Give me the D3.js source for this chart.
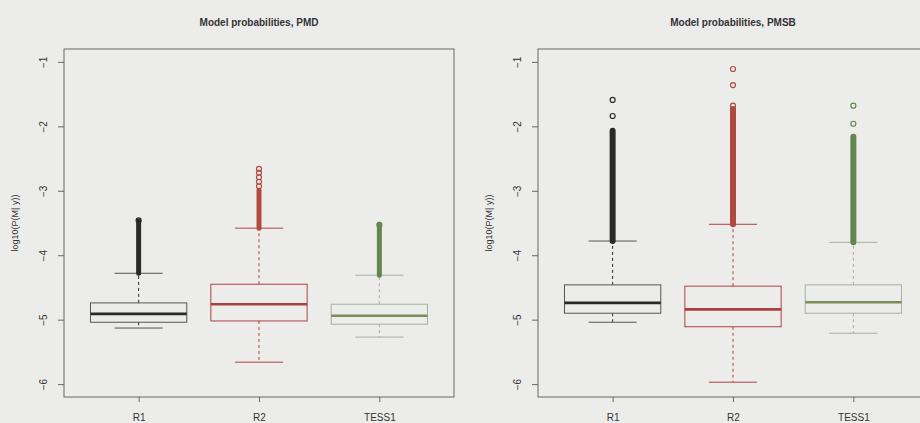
<!DOCTYPE html>
<html>
<head>
<meta charset="utf-8">
<script src="https://cdn.jsdelivr.net/npm/d3@7"></script>
<style>
  body { margin: 0; background: #ececea; }
  svg { display: block; font-family: "Liberation Sans", Arial, sans-serif; }
</style>
</head>
<body>
<div id="chart"></div>
<script>
// categories and tick labels
var categories = ["R1", "R2", "TESS1"];
var yTicks = [-1, -2, -3, -4, -5, -6];

// PMD panel: boxplot stats per category (log10 values)
var pmdLowWhisker = [-5.13, -5.66, -5.27];
var pmdQ1 = [-5.04, -5.02, -5.07];
var pmdMedian = [-4.91, -4.76, -4.94];
var pmdQ3 = [-4.74, -4.45, -4.76];
var pmdHighWhisker = [-4.28, -3.58, -4.31];
var pmdDenseTop = [-3.47, -2.99, -3.52];   // top of the packed run of outliers
var pmdOutliers = [[-3.46], [-2.66, -2.72, -2.79, -2.86, -2.93], [-3.53]];

// PMSB panel
var pmsbLowWhisker = [-5.04, -5.97, -5.21];
var pmsbQ1 = [-4.90, -5.11, -4.90];
var pmsbMedian = [-4.74, -4.84, -4.73];
var pmsbQ3 = [-4.46, -4.48, -4.46];
var pmsbHighWhisker = [-3.78, -3.52, -3.80];
var pmsbDenseTop = [-2.07, -1.73, -2.16];
var pmsbOutliers = [[-1.59, -1.84], [-1.11, -1.36, -1.68], [-1.68, -1.96]];

var lineColor = ["#2a2a2a", "#b2403f", "#a9ada2"];
var medColor = ["#2a2a2a", "#a8403c", "#7c8c55"];
var ptColor = ["#2a2a2a", "#b04a40", "#62864e"];

var W = 920, H = 423;
var svg = d3.select("#chart").append("svg")
    .attr("width", W)
    .attr("height", H);

function drawPanel(left, title, lw, q1, med, q3, hw, denseTop, outliers, colW) {
  var plotW = 390, top = 49, bottom = 397;

  // R style: xlim 0.5..3.5 with 4% padding
  var x = d3.scaleLinear().domain([0.38, 3.62]).range([left, left + plotW]);
  var y = d3.scaleLinear().domain([-6.2, -0.8]).range([bottom, top]);
  var unit = x(2) - x(1);
  var boxW = unit * 0.8;

  var g = svg.append("g");

  g.append("text")
    .attr("x", left + plotW / 2)
    .attr("y", 26)
    .attr("text-anchor", "middle")
    .attr("font-weight", "bold")
    .attr("font-size", 10)
    .attr("fill", "#333")
    .text(title);

  // frame
  g.append("rect")
    .attr("x", left).attr("y", top)
    .attr("width", plotW).attr("height", bottom - top)
    .attr("fill", "none")
    .attr("stroke", "#666")
    .attr("stroke-width", 1);

  // y axis
  var ya = g.append("g")
    .attr("transform", "translate(" + left + ",0)")
    .call(d3.axisLeft(y).tickValues(yTicks).tickSize(6).tickFormat(d3.format("d")));
  ya.select(".domain").remove();
  ya.selectAll("line").attr("stroke", "#666");
  ya.selectAll("text")
    .attr("font-size", 10)
    .attr("fill", "#333")
    .attr("font-family", "Liberation Sans, Arial, sans-serif")
    .attr("x", -21)
    .attr("y", 0)
    .attr("dy", "0.35em")
    .attr("transform", "rotate(-90,-21,0)")
    .attr("text-anchor", "middle");

  g.append("text")
    .attr("transform", "translate(" + (left - 46) + "," + ((top + bottom) / 2) + ") rotate(-90)")
    .attr("text-anchor", "middle")
    .attr("font-size", 9)
    .attr("fill", "#333")
    .text("log10(P(M| y))");

  // x axis
  var xa = g.append("g")
    .attr("transform", "translate(0," + bottom + ")")
    .call(d3.axisBottom(x).tickValues([1, 2, 3]).tickSize(5)
      .tickFormat(function (d) { return categories[d - 1]; }));
  xa.select(".domain").remove();
  xa.selectAll("line").attr("stroke", "#666");
  xa.selectAll("text")
    .attr("font-size", 10)
    .attr("fill", "#333")
    .attr("font-family", "Liberation Sans, Arial, sans-serif")
    .attr("y", 17);

  categories.forEach(function (c, i) {
    var cx = x(i + 1);
    var b = g.append("g");

    // whiskers (dashed)
    b.append("line")
      .attr("x1", cx).attr("x2", cx)
      .attr("y1", y(q3[i])).attr("y2", y(hw[i]))
      .attr("stroke", lineColor[i]).attr("stroke-dasharray", "3,3");
    b.append("line")
      .attr("x1", cx).attr("x2", cx)
      .attr("y1", y(q1[i])).attr("y2", y(lw[i]))
      .attr("stroke", lineColor[i]).attr("stroke-dasharray", "3,3");

    // staples
    [lw[i], hw[i]].forEach(function (v) {
      b.append("line")
        .attr("x1", cx - boxW / 4).attr("x2", cx + boxW / 4)
        .attr("y1", y(v)).attr("y2", y(v))
        .attr("stroke", i === 0 ? "#555" : lineColor[i]);
    });

    // box
    b.append("rect")
      .attr("x", cx - boxW / 2).attr("y", y(q3[i]))
      .attr("width", boxW).attr("height", y(q1[i]) - y(q3[i]))
      .attr("fill", "none")
      .attr("stroke", i === 0 ? "#555" : lineColor[i]);

    b.append("line")
      .attr("x1", cx - boxW / 2).attr("x2", cx + boxW / 2)
      .attr("y1", y(med[i])).attr("y2", y(med[i]))
      .attr("stroke", medColor[i]).attr("stroke-width", 2.6);

    // packed outliers, drawn as the solid column they form
    b.append("line")
      .attr("x1", cx).attr("x2", cx)
      .attr("y1", y(hw[i])).attr("y2", y(denseTop[i]))
      .attr("stroke", ptColor[i]).attr("stroke-width", colW)
      .attr("stroke-linecap", "round");

    b.selectAll("circle")
      .data(outliers[i])
      .enter()
      .append("circle")
      .attr("cx", cx)
      .attr("cy", function (d) { return y(d); })
      .attr("r", 2.5)
      .attr("fill", "none")
      .attr("stroke", ptColor[i])
      .attr("stroke-width", 1.2);
  });
}

drawPanel(64, "Model probabilities, PMD", pmdLowWhisker, pmdQ1, pmdMedian, pmdQ3,
  pmdHighWhisker, pmdDenseTop, pmdOutliers, 5);
drawPanel(538, "Model probabilities, PMSB", pmsbLowWhisker, pmsbQ1, pmsbMedian, pmsbQ3,
  pmsbHighWhisker, pmsbDenseTop, pmsbOutliers, 6);
</script>
</body>
</html>
